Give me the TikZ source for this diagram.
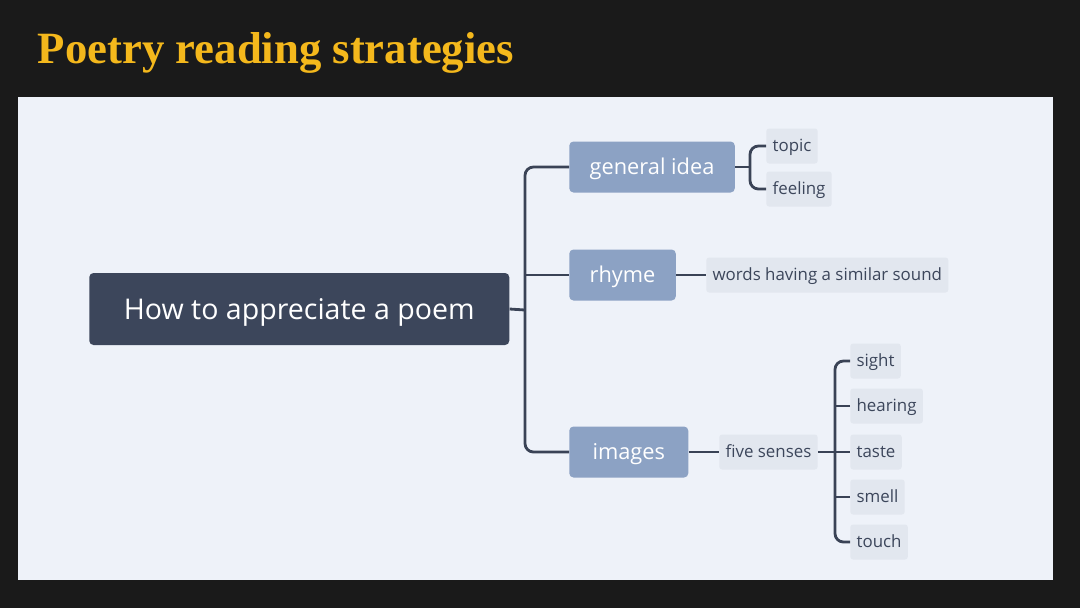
\documentclass[tikz,border=0pt]{standalone}
\usepackage{fontspec}
\setmainfont{Open Sans}
\newfontfamily\titlefont{Liberation Serif}
\usepackage{tikz}
\usetikzlibrary{positioning}

\definecolor{board}{HTML}{1A1A1A}
\definecolor{gold}{HTML}{F4B81C}
\definecolor{panel}{HTML}{EEF2F9}
\definecolor{rootc}{HTML}{3C465B}
\definecolor{branchc}{HTML}{8CA2C4}
\definecolor{leafc}{HTML}{E2E7EF}
\definecolor{linec}{HTML}{3A4356}

\begin{document}
\begin{tikzpicture}[x=0.025cm,y=-0.025cm,
	root/.style={rectangle,rounded corners=3pt,fill=rootc,text=white,anchor=west,
		text height=19.3pt,text depth=4.9pt,
		minimum width=420*0.025cm,minimum height=72*0.025cm,font=\fontsize{20.3}{24}\selectfont},
	branch/.style={rectangle,rounded corners=3pt,fill=branchc,text=white,anchor=west,
		text height=14.7pt,text depth=3.7pt,
		minimum height=51*0.025cm,inner xsep=14.5pt,font=\fontsize{15.5}{18}\selectfont},
	leaf/.style={rectangle,rounded corners=2pt,fill=leafc,text=rootc,anchor=west,
		text height=11.4pt,text depth=2.9pt,
		minimum height=35*0.025cm,inner xsep=4.5pt,font=\fontsize{12}{14}\selectfont},
	conn/.style={draw=linec,line width=2pt,rounded corners=6pt}]
			\useasboundingbox (0,0) rectangle (1080,608);
			\fill[board] (0,0) rectangle (1080,608);
			
			% title
			
			\node[anchor=west,text=gold,font=\titlefont\bfseries\fontsize{31.8}{36}\selectfont] (T) at (33,53) {Poetry reading strategies};
			\fill[panel] (18,97) rectangle (1053,580);
			
			% root and branches
			
			\node[root] (R) at (89,309) {How to appreciate a poem};
			\node[branch] (B1) at (569,167) {general idea};
			\node[branch] (B2) at (569,275) {rhyme};
			\node[branch,minimum width=119*0.025cm] (B3) at (569,452) {images};
			\coordinate (J) at (525,310);
			\draw[conn] (R.east) -- (J);
			\draw[conn] (B1.west) -| (J) |- (B3.west);
			\draw[conn] (B2.west) -- (B2.west -| J);
			
			% general idea
			
			\node[leaf] (L1) at (766,146) {topic};
			\node[leaf] (L2) at (766,189) {feeling};
			\coordinate (G) at (750,167);
			\draw[conn] (B1.east) -- (G);
			\draw[conn] (L1.west) -| (G) |- (L2.west);
			
			% rhyme
			
			\node[leaf] (W) at (706,275) {words having a similar sound};
			\draw[conn] (B2.east) -- (W.west);
			
			% images
			
			\node[leaf] (F) at (719,452) {five senses};
			\draw[conn] (B3.east) -- (F.west);
			\foreach \i/\s/\y in {1/sight/361,2/hearing/406,3/taste/452,4/smell/497,5/touch/542} {
				\node[leaf] (S\i) at (850,\y) {\s};
			}
			\coordinate (K) at (835,452);
			\draw[conn] (F.east) -- (S3.west);
			\draw[conn] (S1.west) -| (K) |- (S5.west);
			\draw[conn] (S2.west) -- (S2.west -| K);
			\draw[conn] (S4.west) -- (S4.west -| K);
			
		\end{tikzpicture}
\end{document}
